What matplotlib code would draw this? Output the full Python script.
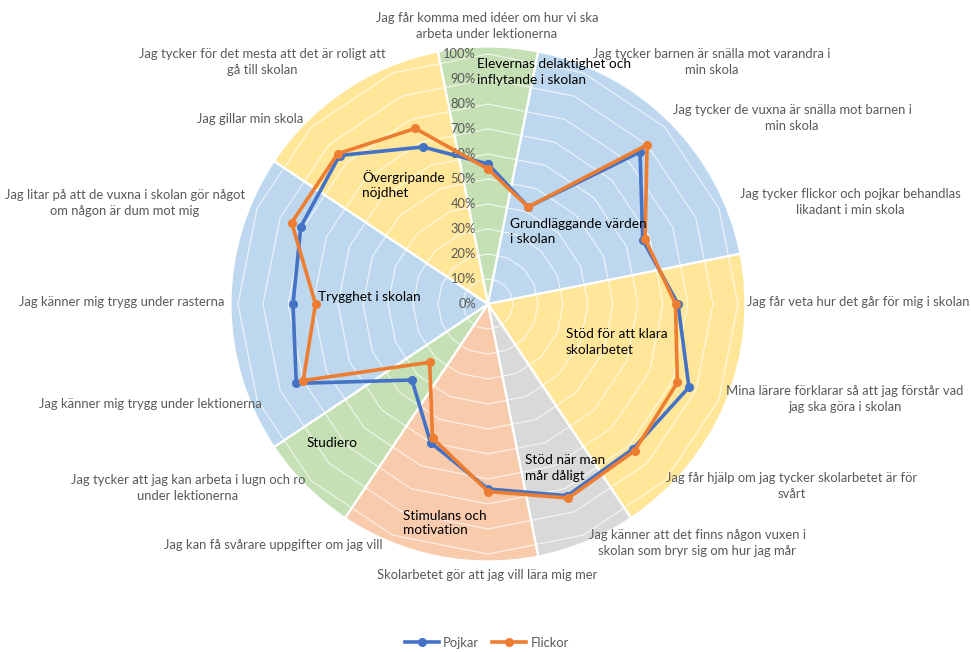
import numpy as np
import matplotlib
matplotlib.use("Agg")
import matplotlib.pyplot as plt
from matplotlib.transforms import offset_copy
from matplotlib.lines import Line2D

# ---------------- data ----------------
categories = [
    "Jag får komma med idéer om hur vi ska\narbeta under lektionerna",
    "Jag tycker barnen är snälla mot varandra i\nmin skola",
    "Jag tycker de vuxna är snälla mot barnen i\nmin skola",
    "Jag tycker flickor och pojkar behandlas\nlikadant i min skola",
    "Jag får veta hur det går för mig i skolan",
    "Mina lärare förklarar så att jag förstår vad\njag ska göra i skolan",
    "Jag får hjälp om jag tycker skolarbetet är för\nsvårt",
    "Jag känner att det finns någon vuxen i\nskolan som bryr sig om hur jag mår",
    "Skolarbetet gör att jag vill lära mig mer",
    "Jag kan få svårare uppgifter om jag vill",
    "Jag tycker att jag kan arbeta i lugn och ro\nunder lektionerna",
    "Jag känner mig trygg under lektionerna",
    "Jag känner mig trygg under rasterna",
    "Jag litar på att de vuxna i skolan gör något\nom någon är dum mot mig",
    "Jag gillar min skola",
    "Jag tycker för det mesta att det är roligt att\ngå till skolan",
]
pojkar = [0.56, 0.42, 0.86, 0.67, 0.76, 0.87, 0.82, 0.83, 0.74, 0.60, 0.43, 0.83, 0.78, 0.81, 0.84, 0.68]
flickor = [0.54, 0.42, 0.90, 0.68, 0.75, 0.82, 0.83, 0.84, 0.75, 0.58, 0.33, 0.80, 0.69, 0.85, 0.85, 0.76]
series_names = ["Pojkar", "Flickor"]

# theme group of each category (for background sectors)
category_group = ["delaktighet", "varden", "varden", "varden", "stod", "stod", "stod", "madaligt",
                  "stimulans", "stimulans", "studiero", "trygghet", "trygghet", "trygghet",
                  "nojdhet", "nojdhet"]
group_labels = {
    "delaktighet": "Elevernas delaktighet och\ninflytande i skolan",
    "varden": "Grundläggande värden\ni skolan",
    "stod": "Stöd för att klara\nskolarbetet",
    "madaligt": "Stöd när man\nmår dåligt",
    "stimulans": "Stimulans och\nmotivation",
    "studiero": "Studiero",
    "trygghet": "Trygghet i skolan",
    "nojdhet": "Övergripande\nnöjdhet",
}
tick_values = [0.0, 0.1, 0.2, 0.3, 0.4, 0.5, 0.6, 0.7, 0.8, 0.9, 1.0]
tick_labels = ["0%", "10%", "20%", "30%", "40%", "50%", "60%", "70%", "80%", "90%", "100%"]

# ---------------- styles / layout ----------------
group_colors = {
    "delaktighet": "#C5E0B4",
    "varden": "#BDD7EE",
    "stod": "#FFE699",
    "madaligt": "#D9D9D9",
    "stimulans": "#F8CBAD",
    "studiero": "#C5E0B4",
    "trygghet": "#BDD7EE",
    "nojdhet": "#FFE699",
}
group_label_pos = {  # pixel positions (left, centre-y) of the group text boxes
    "delaktighet": (477, 72),
    "varden": (510, 231),
    "stod": (566, 342),
    "madaligt": (525, 468),
    "stimulans": (403, 523),
    "studiero": (307, 443),
    "trygghet": (318, 297),
    "nojdhet": (362, 185),
}
cat_label_pos = [
    (487, 26), (712, 62), (792, 118), (850, 202), (858, 302), (845, 399),
    (792, 486), (697, 543), (487, 575), (273, 545), (188, 488), (150, 404),
    (122, 302), (125, 203), (250, 119), (262, 62),
]
series_colors = ["#4472C4", "#ED7D31"]
W, H = 971, 652
FONT = ["Lato", "DejaVu Sans"]
plt.rcParams["font.family"] = FONT

fig = plt.figure(figsize=(W / 100, H / 100), dpi=100)
fig.patch.set_facecolor("white")


def px(x, y):
    return x / W, 1 - y / H


cx, cy, R = 488, 304, 250
rmax = 1.04
left, top = px(cx - R * rmax, cy - R * rmax)
ax = fig.add_axes([left, top - 2 * R * rmax / H, 2 * R * rmax / W, 2 * R * rmax / H],
                  projection="polar")
ax.set_theta_zero_location("N")
ax.set_theta_direction(-1)
ax.set_ylim(0, rmax)
ax.set_axis_off()

n = len(categories)
step = 2 * np.pi / n
theta = np.arange(n) * step

# background sectors: one slice per run of same-group categories
runs = []
for i, g in enumerate(category_group):
    if runs and runs[-1][0] == g:
        runs[-1][2] += 1
    else:
        runs.append([g, i, 1])
starts = np.array([r[1] for r in runs]) * step - step / 2
widths = np.array([r[2] for r in runs]) * step
ax.bar(starts, [1.03] * len(runs), width=widths, bottom=0, align="edge",
       color=[group_colors[r[0]] for r in runs], edgecolor="white",
       linewidth=1.6, zorder=1)

# polygon gridlines
th_closed = np.append(theta, theta[0])
for v in tick_values[1:]:
    ax.plot(th_closed, [v] * (n + 1), color="white", lw=0.8, alpha=0.75, zorder=2)

# radial tick labels
off = offset_copy(ax.transData, fig=fig, x=-12, y=0, units="dots")
for v, lab in zip(tick_values, tick_labels):
    ax.text(0, v, lab, transform=off, ha="right", va="center", fontsize=9.3,
            color="#595959", zorder=3)

# series
for vals, name, col in zip([pojkar, flickor], series_names, series_colors):
    ax.plot(th_closed, list(vals) + [vals[0]], color=col, lw=2.6, marker="o",
            markersize=5.5, label=name, zorder=5, solid_joinstyle="round")

# category labels
for lab, (x, y) in zip(categories, cat_label_pos):
    fx, fy = px(x, y)
    fig.text(fx, fy, lab, ha="center", va="center", multialignment="center",
             fontsize=9.4, color="#595959", linespacing=1.45)

# group labels
for g, (x, y) in group_label_pos.items():
    fx, fy = px(x, y)
    fig.text(fx, fy, group_labels[g], ha="left", va="center", fontsize=9.8,
             color="#000000", linespacing=1.3, zorder=6)

# legend
handles = [Line2D([0], [0], color=c, lw=2.6, marker="o", markersize=5.5) for c in series_colors]
leg = fig.legend(handles, series_names, loc="center", bbox_to_anchor=px(487, 643),
                 ncol=2, frameon=False, fontsize=9.4, handlelength=2.6,
                 columnspacing=1.0, handletextpad=0.3)
for t in leg.get_texts():
    t.set_color("#595959")

fig.savefig("out.png", dpi=100, facecolor="white")
